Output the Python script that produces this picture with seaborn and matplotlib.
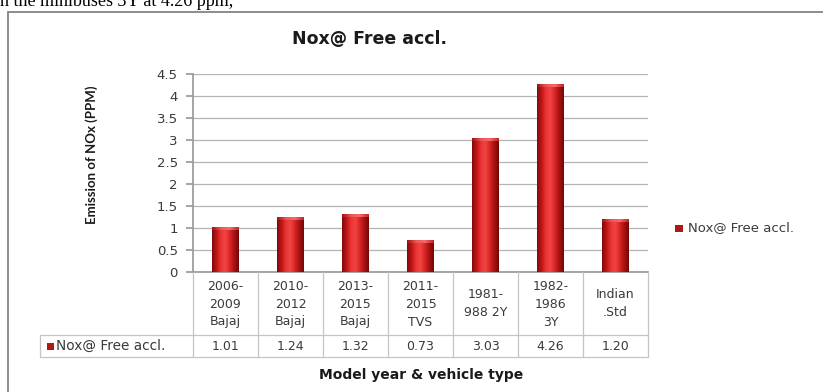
import numpy as np
import pandas as pd
import matplotlib
matplotlib.use("Agg")
import matplotlib.pyplot as plt
from matplotlib.colors import LinearSegmentedColormap
from matplotlib.patches import Rectangle
import seaborn as sns

# ---- data ----
categories = ["2006-\n2009\nBajaj", "2010-\n2012\nBajaj", "2013-\n2015\nBajaj",
              "2011-\n2015\nTVS", "1981-\n988 2Y", "1982-\n1986\n3Y", "Indian\n.Std"]
nox_values = [1.01, 1.24, 1.32, 0.73, 3.03, 4.26, 1.20]
series_name = "Nox@ Free accl."
y_ticks = [0, 0.5, 1, 1.5, 2, 2.5, 3, 3.5, 4, 4.5]
y_tick_labels = ["0", "0.5", "1", "1.5", "2", "2.5", "3", "3.5", "4", "4.5"]

sns.set_theme(style="white")
plt.rcParams["font.family"] = ["DejaVu Sans"]

W, H = 823, 392
fig = plt.figure(figsize=(W / 100, H / 100), dpi=100)
fig.patch.set_facecolor("white")

def fx(px):
    return px / W

def fy(py):
    return 1 - py / H

TXT = "#3a3a3a"

# surrounding page text and chart frame
fig.text(fx(0), fy(6), "n the minibuses 3Y at 4.26 ppm,", family="Liberation Serif",
         fontsize=13, color="black", ha="left", va="baseline")
frame = Rectangle((fx(8), fy(420)), fx(900), fy(12) - fy(420), transform=fig.transFigure,
                  fill=False, edgecolor="#8c8c8c", linewidth=1.4)
fig.patches.append(frame)

# ---- plot area ----
left_px, right_px, top_px, base_px = 193, 648, 74, 272
ax = fig.add_axes([fx(left_px), fy(base_px), fx(right_px - left_px), (base_px - top_px) / H])
df = pd.DataFrame({"category": categories, "nox": nox_values})
sns.barplot(data=df, x="category", y="nox", ax=ax, color="#c41a1a", width=0.41,
            edgecolor="none", saturation=1)

# cylinder-like shading on each bar
shade = LinearSegmentedColormap.from_list(
    "cyl", ["#800a0a", "#c01616", "#ea3434", "#f24444", "#d82424", "#a81212", "#740707"])
cap = LinearSegmentedColormap.from_list("cap", ["#a01212", "#ec5656", "#f46a6a", "#c42222"])
grad = np.linspace(0, 1, 64)[None, :]
for p in ax.patches:
    x0, w, h = p.get_x(), p.get_width(), p.get_height()
    im = ax.imshow(grad, cmap=shade, aspect="auto", extent=(x0, x0 + w, 0, h),
                   interpolation="bilinear", zorder=3)
    im.set_clip_path(p)
    ax.imshow(grad, cmap=cap, aspect="auto", extent=(x0, x0 + w, h - 0.06, h),
              interpolation="bilinear", zorder=4)

ax.set_xlim(-0.5, len(categories) - 0.5)
ax.set_ylim(0, 4.5)
ax.set_yticks(y_ticks)
ax.set_yticklabels(y_tick_labels, fontsize=9.5, color=TXT)
ax.set_xticks([])
ax.set_xlabel("")
ax.set_ylabel("")
ax.yaxis.grid(True, color="#b4b4b4", linewidth=0.9)
ax.set_axisbelow(True)
for s in ["top", "right"]:
    ax.spines[s].set_visible(False)
ax.spines["left"].set_color("#9a9a9a")
ax.spines["bottom"].set_color("#9a9a9a")
ax.tick_params(axis="y", length=5, color="#9a9a9a", direction="out", pad=6, left=True)

# ---- data table under the axis ----
tbl_left_px, tbl_bottom_px = 40, 357
col_w = (right_px - left_px) / len(categories)
x_left = -0.5 - (left_px - tbl_left_px) / col_w
tab = fig.add_axes([fx(tbl_left_px), fy(tbl_bottom_px), fx(right_px - tbl_left_px),
                    (tbl_bottom_px - base_px) / H])
tab.set_xlim(x_left, len(categories) - 0.5)
tab.set_ylim(tbl_bottom_px - base_px, 0)
tab.axis("off")
line_c = "#c4c4c4"
row_split = 335 - base_px
row_end = tbl_bottom_px - base_px
x_right = len(categories) - 0.5
for k in range(len(categories) + 1):
    tab.plot([-0.5 + k, -0.5 + k], [0, row_end], color=line_c, lw=0.9, clip_on=False)
tab.plot([x_left, x_left], [row_split, row_end], color=line_c, lw=0.9, clip_on=False)
tab.plot([x_left, x_right], [row_split, row_split], color=line_c, lw=0.9, clip_on=False)
tab.plot([x_left, x_right], [row_end, row_end], color=line_c, lw=0.9, clip_on=False)
for i, (cat, v) in enumerate(zip(categories, nox_values)):
    tab.text(i, row_split / 2 + 0.5, cat, ha="center", va="center", fontsize=9,
             color=TXT, linespacing=1.5)
    tab.text(i, (row_split + row_end) / 2, f"{v:.2f}", ha="center", va="center",
             fontsize=9, color=TXT)
key_x = x_left + 0.11
tab.add_patch(Rectangle((key_x, (row_split + row_end) / 2 - 3.5), 0.1, 7,
                        facecolor="#b01818", edgecolor="none", clip_on=False))
tab.text(key_x + 0.13, (row_split + row_end) / 2, series_name, ha="left", va="center",
         fontsize=9.8, color=TXT)

# ---- titles and legend ----
fig.text(fx(370), fy(39), "Nox@ Free accl.", ha="center", va="center",
         fontsize=12.5, fontweight="bold", color="#1a1a1a")
fig.text(fx(92), fy(155), "Emission of NOx (PPM)", ha="center", va="center",
         rotation=90, fontsize=9.5, fontweight="bold", color="#1a1a1a", family="Lato")
fig.text(fx(421), fy(375), "Model year & vehicle type", ha="center", va="center",
         fontsize=10, fontweight="bold", color="#1a1a1a")
fig.patches.append(Rectangle((fx(675), fy(232)), fx(8), 7 / H, transform=fig.transFigure,
                             facecolor="#b01818", edgecolor="none"))
fig.text(fx(688), fy(228), series_name, ha="left", va="center", fontsize=9.5, color=TXT)

fig.savefig("out.png", dpi=100, facecolor="white")
